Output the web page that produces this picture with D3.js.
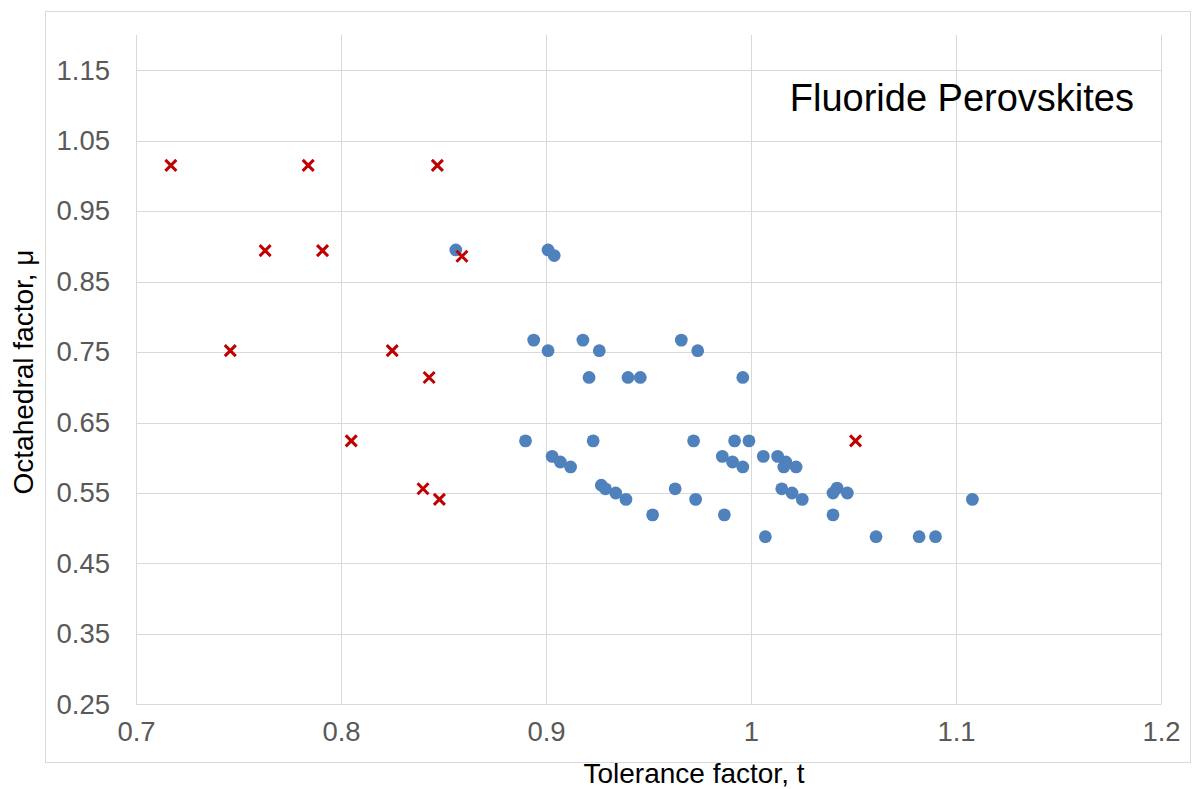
<!DOCTYPE html>
<html>
<head>
<meta charset="utf-8">
<script src="https://cdn.jsdelivr.net/npm/d3@7"></script>
<style>
  html, body { margin: 0; padding: 0; background: #ffffff; }
  svg { display: block; }
  text { font-family: "Liberation Sans", Arial, sans-serif; }
</style>
</head>
<body>
<svg id="chart" width="1192" height="789"></svg>
<script>
// ---- Data ----
const stableT  = [0.856,0.901,0.904,0.894,0.918,0.966,0.901,0.926,0.974,0.921,0.940,0.946,0.996,
                  0.890,0.923,0.972,0.992,0.999,0.903,0.986,1.006,1.013,0.907,0.991,1.017,
                  0.912,0.996,1.016,1.022,0.927,0.929,0.963,1.015,1.042,0.934,1.020,1.040,1.047,
                  0.939,0.973,1.025,1.108,0.952,0.987,1.040,1.007,1.061,1.082,1.090];
const stableMu = [0.895,0.895,0.887,0.767,0.767,0.767,0.752,0.752,0.752,0.714,0.714,0.714,0.714,
                  0.624,0.624,0.624,0.624,0.624,0.602,0.602,0.602,0.602,0.594,0.594,0.594,
                  0.587,0.587,0.587,0.587,0.561,0.556,0.556,0.556,0.557,0.550,0.550,0.550,0.550,
                  0.541,0.541,0.541,0.541,0.519,0.519,0.519,0.488,0.488,0.488,0.488];
const unstableT  = [0.717,0.784,0.847,0.763,0.791,0.859,0.746,0.825,0.843,0.805,1.051,0.840,0.848];
const unstableMu = [1.015,1.015,1.015,0.894,0.894,0.886,0.752,0.752,0.714,0.624,0.624,0.556,0.541];
const xTicks = [0.7,0.8,0.9,1.0,1.1,1.2];
const yTicks = [0.25,0.35,0.45,0.55,0.65,0.75,0.85,0.95,1.05,1.15];
const chartTitle = "Fluoride Perovskites";
const xTitle = "Tolerance factor, t";
const yTitle = "Octahedral factor, \u03bc";

// ---- Layout ----
const svg = d3.select("#chart");
const L = 136, R = 1161, T = 35, B = 704.4;
const x = d3.scaleLinear().domain([0.7, 1.2]).range([L, R]);
const y = d3.scaleLinear().domain([0.25, 1.2]).range([B, T]);
const gridColor = "#d9d9d9";
const labelColor = "#595959";

// Outer chart border
svg.append("rect")
  .attr("x", 45.5).attr("y", 11.5)
  .attr("width", 1145).attr("height", 751)
  .attr("fill", "none").attr("stroke", gridColor).attr("stroke-width", 1);

// Gridlines
svg.append("g").selectAll("line").data(yTicks).join("line")
  .attr("x1", L).attr("x2", R)
  .attr("y1", d => Math.round(y(d)) + 0.5).attr("y2", d => Math.round(y(d)) + 0.5)
  .attr("stroke", gridColor).attr("stroke-width", 1);
svg.append("g").selectAll("line").data(xTicks).join("line")
  .attr("y1", T).attr("y2", B)
  .attr("x1", d => Math.round(x(d)) + 0.5).attr("x2", d => Math.round(x(d)) + 0.5)
  .attr("stroke", gridColor).attr("stroke-width", 1);

// Axes (labels only)
const fmtY = d3.format(".2f");
const fmtX = d => (Math.abs(d - 1) < 1e-9 ? "1" : d3.format(".1~f")(d));

const yAxis = svg.append("g")
  .attr("transform", `translate(${L},0)`)
  .call(d3.axisLeft(y).tickValues(yTicks).tickFormat(fmtY).tickSize(0).tickPadding(26));
yAxis.select(".domain").remove();
yAxis.selectAll("text")
  .attr("fill", labelColor).style("font-size", "27.5px")
  .style("font-family", "'Liberation Sans', Arial, sans-serif");

const xAxis = svg.append("g")
  .attr("transform", `translate(0,${B})`)
  .call(d3.axisBottom(x).tickValues(xTicks).tickFormat(fmtX).tickSize(0).tickPadding(17));
xAxis.select(".domain").remove();
xAxis.selectAll("text")
  .attr("fill", labelColor).style("font-size", "27.5px")
  .style("font-family", "'Liberation Sans', Arial, sans-serif");

// Markers: stable (blue circles)
const stable = stableT.map((t, i) => ({ t, mu: stableMu[i] }));
svg.append("g").selectAll("circle").data(stable).join("circle")
  .attr("cx", d => x(d.t)).attr("cy", d => y(d.mu))
  .attr("r", 6.4).attr("fill", "#4f81bd");

// Markers: unstable (red crosses)
const unstable = unstableT.map((t, i) => ({ t, mu: unstableMu[i] }));
const h = 5.5;
svg.append("g").selectAll("path").data(unstable).join("path")
  .attr("d", d => {
    const cx = x(d.t), cy = y(d.mu);
    return `M${cx - h},${cy - h}L${cx + h},${cy + h}M${cx + h},${cy - h}L${cx - h},${cy + h}`;
  })
  .attr("stroke", "#c00000").attr("stroke-width", 3).attr("fill", "none");

// Titles
svg.append("text")
  .attr("x", 1134).attr("y", 111)
  .attr("text-anchor", "end")
  .attr("fill", "#000000").style("font-size", "38px")
  .text(chartTitle);

svg.append("text")
  .attr("x", 694).attr("y", 783)
  .attr("text-anchor", "middle")
  .attr("fill", "#000000").style("font-size", "28px")
  .text(xTitle);

svg.append("text")
  .attr("transform", "translate(33,372) rotate(-90)")
  .attr("text-anchor", "middle")
  .attr("fill", "#000000").style("font-size", "28px")
  .text(yTitle);
</script>
</body>
</html>
